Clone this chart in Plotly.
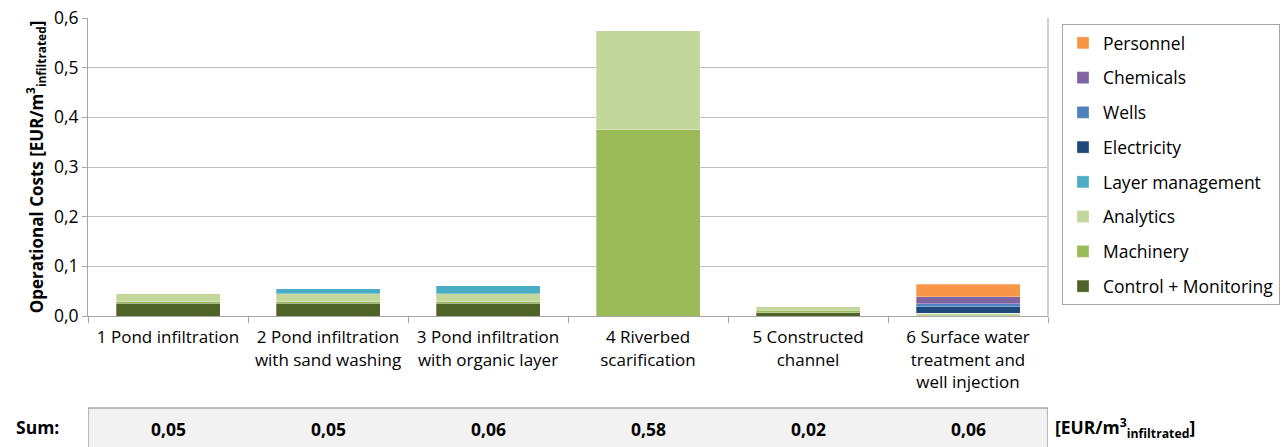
import plotly.graph_objects as go

categories = [
    "1 Pond infiltration",
    "2 Pond infiltration<br>with sand washing",
    "3 Pond infiltration<br>with organic layer",
    "4 Riverbed<br>scarification",
    "5 Constructed<br>channel",
    "6 Surface water<br>treatment and<br>well injection",
]

control_monitoring = [0.026, 0.026, 0.026, 0.0, 0.007, 0.0]
machinery = [0.003, 0.003, 0.003, 0.375, 0.005, 0.0]
analytics = [0.017, 0.016, 0.016, 0.200, 0.008, 0.006]
layer_management = [0.0, 0.010, 0.016, 0.0, 0.0, 0.0]
electricity = [0.0, 0.0, 0.0, 0.0, 0.0, 0.013]
wells = [0.0, 0.0, 0.0, 0.0, 0.0, 0.006]
chemicals = [0.0, 0.0, 0.0, 0.0, 0.0, 0.014]
personnel = [0.0, 0.0, 0.0, 0.0, 0.0, 0.025]

sum_labels = ["0,05", "0,05", "0,06", "0,58", "0,02", "0,06"]
y_ticks = [0.0, 0.1, 0.2, 0.3, 0.4, 0.5, 0.6]

series = [
    ("Control + Monitoring", control_monitoring, "#4F6228"),
    ("Machinery", machinery, "#9BBB59"),
    ("Analytics", analytics, "#C3D69B"),
    ("Layer management", layer_management, "#4BACC6"),
    ("Electricity", electricity, "#1F497D"),
    ("Wells", wells, "#4F81BD"),
    ("Chemicals", chemicals, "#8064A2"),
    ("Personnel", personnel, "#F79646"),
]

FONT = "Open Sans"
W, H = 1285, 447
L, R, T, B = 88, 237, 18, 131
PW, PH = W - L - R, H - T - B


def py(pix):
    """paper y for a pixel row measured from the top of the figure"""
    return (H - B - pix) / PH


def px(pix):
    """paper x for a pixel column measured from the left of the figure"""
    return (pix - L) / PW


fig = go.Figure()
for i, (name, vals, color) in enumerate(series):
    fig.add_trace(go.Bar(
        x=categories, y=vals, name=name, legendgroup=name,
        legendrank=1000 - i * 10,
        marker=dict(color=color, line=dict(color="rgba(255,255,255,0.6)", width=0.5)),
    ))

# sum box
fig.add_shape(type="rect", xref="x", yref="paper", x0=-0.5, x1=5.5, y0=py(460), y1=py(408),
              fillcolor="#f2f2f2", line=dict(color="#808080", width=1), layer="below")
# right border of plot area
fig.add_shape(type="line", xref="paper", yref="paper", x0=1, x1=1, y0=0, y1=1,
              line=dict(color="#d0d0d0", width=2))

for i, s in enumerate(sum_labels):
    fig.add_annotation(x=categories[i], xref="x", y=py(415), yref="paper", yanchor="top",
                       text=f"<b>{s}</b>",
                       showarrow=False, font=dict(size=17.5, color="black", family=FONT))

fig.add_annotation(x=px(14), xref="paper", y=py(413), yref="paper", yanchor="top",
                   text="<b>Sum:</b>",
                   showarrow=False, xanchor="left", font=dict(size=17.5, color="black", family=FONT))
fig.add_annotation(x=px(1053), xref="paper", y=py(412), yref="paper", yanchor="top",
                   text="<b>[EUR/m<sup>3</sup><sub>infiltrated</sub>]</b>",
                   showarrow=False, xanchor="left", font=dict(size=17.5, color="black", family=FONT))

fig.update_layout(
    width=W, height=H,
    margin=dict(l=L, r=R, t=T, b=B, autoexpand=False),
    barmode="stack", bargap=0.35,
    separators=", ",
    plot_bgcolor="white", paper_bgcolor="white",
    font=dict(family=FONT, size=17.5, color="black"),
    legend=dict(
        x=px(1062), y=py(24), xanchor="left", yanchor="top",
        traceorder="grouped", tracegroupgap=9,
        bordercolor="#a6a6a6", borderwidth=1,
        font=dict(size=17.5, family=FONT),
        itemwidth=30,
    ),
    yaxis=dict(
        range=[0, 0.6], tickvals=y_ticks, tickformat=".1f",
        showgrid=True, gridcolor="#bfbfbf", gridwidth=1,
        showline=True, linecolor="#a6a6a6", ticks="outside", ticklen=5, tickcolor="#a6a6a6",
        tickfont=dict(size=17.5),
        zeroline=False,
        title=dict(text="<b>Operational Costs [EUR/m<sup>3</sup><sub>infiltrated</sub>]</b>",
                   font=dict(size=17), standoff=6),
    ),
    xaxis=dict(
        showline=True, linecolor="#a6a6a6", linewidth=1,
        ticks="outside", tickson="boundaries", ticklen=6, tickcolor="#a6a6a6",
        ticklabelstandoff=6,
        tickfont=dict(size=17), tickangle=0, range=[-0.5, 5.5],
    ),
)

fig.write_html("out.html", config={"displayModeBar": False},
               post_script="document.body.style.margin='0';")
